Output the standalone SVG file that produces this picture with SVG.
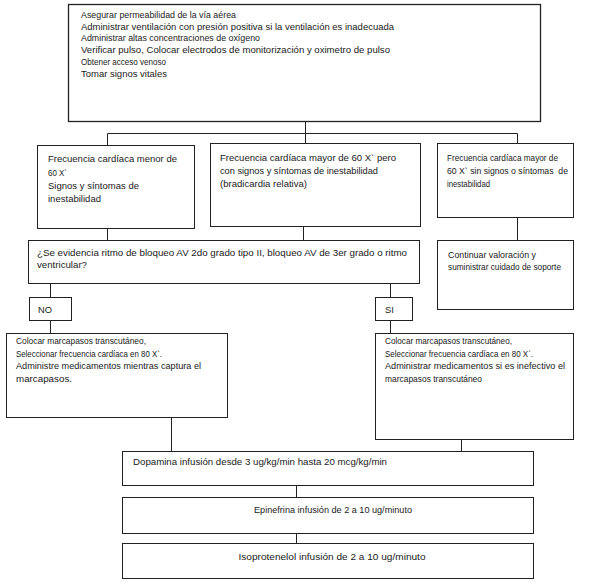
<svg xmlns="http://www.w3.org/2000/svg" width="598" height="587" viewBox="0 0 598 587">
<style>
.b{fill:#fff;stroke:#222;stroke-width:1}
.c{fill:none;stroke:#222;stroke-width:1}
text{font-family:"Liberation Sans",Arial,sans-serif;font-size:9.3px;fill:#1a1a1a}
.m{text-anchor:middle}
</style>
<rect width="598" height="587" fill="#fff"/>
<g id="connectors">
<path class="c" d="M305.5 121.5V133.5M107.5 133.5H517.5M107.5 133.5V145.5M305.5 133.5V143.5M517.5 133.5V143.5"/>
<path class="c" d="M107.5 228.5V240.5M303.5 226.5V240.5M517.5 217.5V240.5"/>
<path class="c" d="M50.5 283.5V297.5M390.5 283.5V297.5M50.5 320.5V333.5M390.5 320.5V333.5"/>
<path class="c" d="M171.5 417.5V451.5M461.5 439.5V451.5M296.5 485.5V497.5M296.5 533.5V543.5"/>
</g>
<g id="n-top">
<rect class="b" x="68.5" y="4.5" width="472" height="117" style="stroke-width:1.3"/>
<text x="81" y="18" textLength="155" lengthAdjust="spacingAndGlyphs">Asegurar permeabilidad de la vía aérea</text>
<text x="81" y="29.7" textLength="313" lengthAdjust="spacingAndGlyphs">Administrar ventilación con presión positiva si la ventilación es inadecuada</text>
<text x="81" y="41.4" textLength="179" lengthAdjust="spacingAndGlyphs">Administrar altas concentraciones de oxígeno</text>
<text x="81" y="53.1" textLength="309" lengthAdjust="spacingAndGlyphs">Verificar pulso, Colocar electrodos de monitorización y oximetro de pulso</text>
<text x="81" y="64.8" textLength="85" lengthAdjust="spacingAndGlyphs">Obtener acceso venoso</text>
<text x="81" y="76.5" textLength="86" lengthAdjust="spacingAndGlyphs">Tomar signos vitales</text>
</g>
<g id="n-menor">
<rect class="b" x="37.5" y="145.5" width="157" height="83"/>
<text x="48" y="162.3" textLength="129" lengthAdjust="spacingAndGlyphs">Frecuencia cardíaca menor de</text>
<text x="48" y="175.6" textLength="19" lengthAdjust="spacingAndGlyphs">60 X`</text>
<text x="48" y="189" textLength="91" lengthAdjust="spacingAndGlyphs">Signos y síntomas de</text>
<text x="48" y="201.6" textLength="53" lengthAdjust="spacingAndGlyphs">inestabilidad</text>
</g>
<g id="n-mayor-inest">
<rect class="b" x="210.5" y="143.5" width="210" height="83"/>
<text x="220" y="161" textLength="176" lengthAdjust="spacingAndGlyphs">Frecuencia cardíaca mayor de 60 X` pero</text>
<text x="220" y="174" textLength="158" lengthAdjust="spacingAndGlyphs">con signos y síntomas de inestabilidad</text>
<text x="220" y="187" textLength="87" lengthAdjust="spacingAndGlyphs">(bradicardia relativa)</text>
</g>
<g id="n-mayor-sin">
<rect class="b" x="437.5" y="143.5" width="136" height="74"/>
<text x="447" y="161" textLength="111" lengthAdjust="spacingAndGlyphs">Frecuencia cardíaca mayor de</text>
<text x="447" y="174" xml:space="preserve" textLength="121" lengthAdjust="spacingAndGlyphs">60 X` sin signos o síntomas  de</text>
<text x="447" y="187" textLength="43" lengthAdjust="spacingAndGlyphs">inestabilidad</text>
</g>
<g id="n-pregunta">
<rect class="b" x="28.5" y="240.5" width="391" height="43"/>
<text x="37" y="256" textLength="370" lengthAdjust="spacingAndGlyphs">¿Se evidencia ritmo de bloqueo AV 2do grado tipo II, bloqueo AV de 3er grado o ritmo</text>
<text x="37" y="268" textLength="50" lengthAdjust="spacingAndGlyphs">ventricular?</text>
</g>
<g id="n-continuar">
<rect class="b" x="437.5" y="240.5" width="136" height="69"/>
<text x="448" y="258" textLength="88" lengthAdjust="spacingAndGlyphs">Continuar valoración y</text>
<text x="448" y="270" textLength="113" lengthAdjust="spacingAndGlyphs">suministrar cuidado de soporte</text>
</g>
<g id="n-no">
<rect class="b" x="29.5" y="297.5" width="42" height="23"/>
<text x="38" y="313">NO</text>
</g>
<g id="n-si">
<rect class="b" x="375.5" y="297.5" width="37" height="23"/>
<text x="385" y="313">SI</text>
</g>
<g id="n-accion-no">
<rect class="b" x="6.5" y="333.5" width="221" height="84"/>
<text x="16" y="344" textLength="130" lengthAdjust="spacingAndGlyphs">Colocar marcapasos transcutáneo,</text>
<text x="16" y="356.5" textLength="146" lengthAdjust="spacingAndGlyphs">Seleccionar frecuencia cardíaca en 80 X`.</text>
<text x="16" y="369" textLength="185" lengthAdjust="spacingAndGlyphs">Administre medicamentos mientras captura el</text>
<text x="16" y="381.5" textLength="56" lengthAdjust="spacingAndGlyphs">marcapasos.</text>
</g>
<g id="n-accion-si">
<rect class="b" x="375.5" y="333.5" width="198" height="106"/>
<text x="385" y="344" textLength="127" lengthAdjust="spacingAndGlyphs">Colocar marcapasos transcutáneo,</text>
<text x="385" y="356.5" textLength="148" lengthAdjust="spacingAndGlyphs">Seleccionar frecuencia cardíaca en 80 X`.</text>
<text x="385" y="369" textLength="180" lengthAdjust="spacingAndGlyphs">Administrar medicamentos si es inefectivo el</text>
<text x="385" y="381.5" textLength="97" lengthAdjust="spacingAndGlyphs">marcapasos transcutáneo</text>
</g>
<g id="n-dopamina">
<rect class="b" x="122.5" y="451.5" width="411" height="34"/>
<text x="133" y="465" textLength="254" lengthAdjust="spacingAndGlyphs">Dopamina infusión desde 3 ug/kg/min hasta 20 mcg/kg/min</text>
</g>
<g id="n-epinefrina">
<rect class="b" x="122.5" y="497.5" width="411" height="36"/>
<text class="m" x="333" y="513" textLength="158" lengthAdjust="spacingAndGlyphs">Epinefrina infusión de 2 a 10 ug/minuto</text>
</g>
<g id="n-isoprotenelol">
<rect class="b" x="122.5" y="543.5" width="411" height="35"/>
<text class="m" x="332" y="560" textLength="187" lengthAdjust="spacingAndGlyphs">Isoprotenelol infusión de 2 a 10 ug/minuto</text>
</g>
</svg>
